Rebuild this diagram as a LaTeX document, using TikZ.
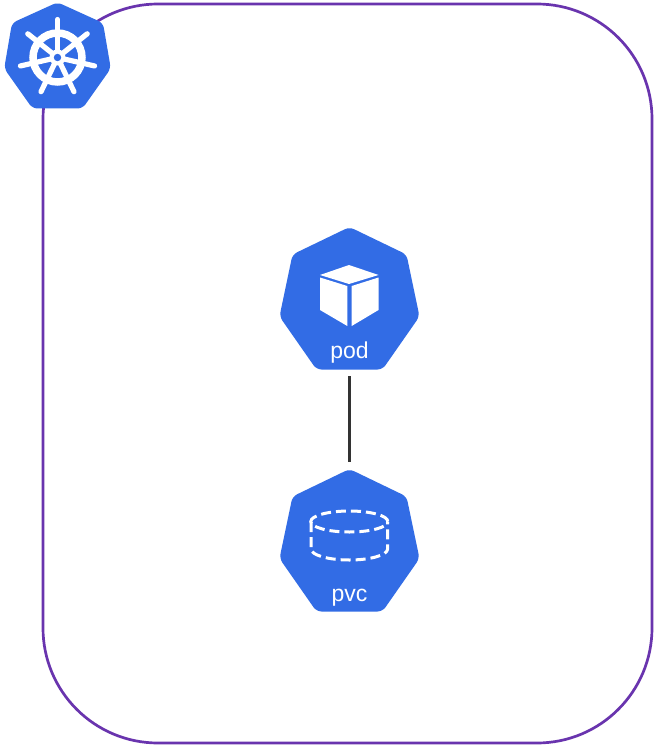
\documentclass[tikz,border=0pt]{standalone}
\usepackage{fontspec}
\setmainfont{Liberation Sans}
\definecolor{kblue}{HTML}{326CE5}
\definecolor{kpurple}{HTML}{6934AE}
\definecolor{kline}{HTML}{333333}
\tikzset{
  frameline/.style={draw=kpurple,line width=2.7pt,rounded corners=115pt},
  hepta/.style={fill=kblue,rounded corners=5pt},
  holder/.style={minimum width=140pt,minimum height=144pt,inner sep=0pt,outer sep=6pt},
  caption/.style={text=white,font=\fontsize{23}{25}\selectfont,inner sep=0pt},
  link/.style={draw=kline,line width=3pt},
  spoke/.style={draw=white,line width=5.2pt,line cap=round},
  wheelring/.style={draw=white,line width=7.5pt},
  cubeface/.style={fill=white,line join=round},
  dashline/.style={draw=white,line width=3pt,dash pattern=on 10pt off 5pt}
}
\begin{document}
\begin{tikzpicture}[x=1pt,y=-1pt]
\useasboundingbox (0,0) rectangle (653,746);
\fill[white] (0,0) rectangle (653,746);
% frame
\draw[frameline] (43,4) rectangle (652,743);
% logo
\fill[hepta] (57.5,2.3) -- (103,23) -- (110.8,68.5) -- (82.5,108.5) -- (32.5,108.5) -- (4.2,68.5) -- (12,23) -- cycle;
\draw[wheelring] (57.5,57.5) circle[radius=24.5pt];
\foreach \a in {90,141.43,192.86,244.29,295.71,347.14,38.57}{
  \draw[spoke] (57.5,57.5) -- ++({cos(\a)*38},{-sin(\a)*38});
}
\fill[white] (57.5,57.5) circle[radius=8pt];
\fill[kblue] (57.5,57.5) circle[radius=3.7pt];
% pod
\fill[hepta] (349.5,227) -- (406.5,254.5) -- (419.5,316.5) -- (382.5,369.5) -- (316.5,369.5) -- (279.5,316.5) -- (292.5,254.5) -- cycle;
\node[holder] (pod) at (349.5,298) {};
\fill[cubeface] (349,265) -- (378.5,275) -- (349,284) -- (320,275) -- cycle;
\fill[cubeface] (320,277.5) -- (347.3,286) -- (347.3,326) -- (320,310) -- cycle;
\fill[cubeface] (378.5,277.5) -- (351.7,286) -- (351.7,326) -- (378.5,310) -- cycle;
\node[caption,anchor=base] (podlabel) at (349.5,358.5) {pod};
% pvc
\fill[hepta] (349.5,469) -- (406.5,496.5) -- (419.5,558.5) -- (382.5,611.5) -- (316.5,611.5) -- (279.5,558.5) -- (292.5,496.5) -- cycle;
\node[holder] (pvc) at (349.5,540) {};
\draw[dashline] (349.3,521.5) ellipse[x radius=38.5pt,y radius=10.5pt];
\draw[dashline] (311,522) -- (311,549) arc[start angle=180,end angle=360,x radius=38.3pt,y radius=11pt] -- (387.6,522);
\node[caption,anchor=base] (pvclabel) at (349.5,601) {pvc};
% connector
\draw[link] (pod.south) -- (pvc.north);
\end{tikzpicture}
\end{document}
